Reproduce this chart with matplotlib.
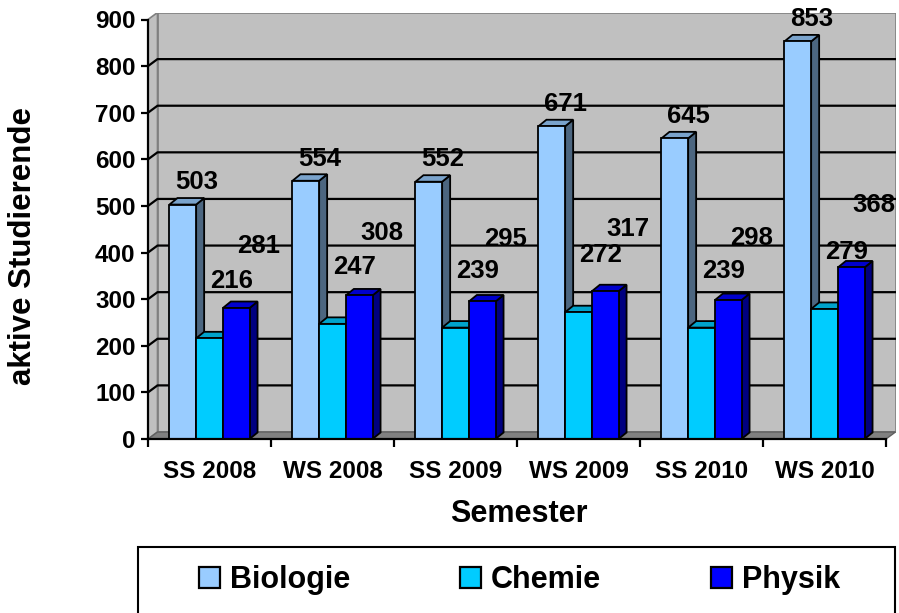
import matplotlib
matplotlib.use("Agg")
import matplotlib.pyplot as plt
from matplotlib.patches import Polygon, Rectangle, Patch
import numpy as np

plt.rcParams['font.family'] = ['Liberation Sans', 'DejaVu Sans']
plt.rcParams['font.weight'] = 'bold'

semesters = ['SS 2008', 'WS 2008', 'SS 2009', 'WS 2009', 'SS 2010', 'WS 2010']
biologie = [503, 554, 552, 671, 645, 853]
chemie = [216, 247, 239, 272, 239, 279]
physik = [281, 308, 295, 317, 298, 368]
series_names = ['Biologie', 'Chemie', 'Physik']
y_ticks = list(range(0, 1000, 100))

# front / top / side colours like the old excel 3d look
faces = [('#99CCFF', '#7AA3CC', '#4C6680'),
         ('#00CCFF', '#00A3CC', '#006680'),
         ('#0000FF', '#0000CC', '#000080')]
# label offsets in points (dx, dy) from the bar top
lab_off = [(10, 16), (16, 41), (16.5, 45)]

n = len(semesters)
px_x = 123.0            # pixels per category
px_y = 419.5 / 900      # pixels per unit
wdx, wdy = 9.5 / px_x, 7 / px_y     # wall depth
bdx, bdy = 8 / px_x, 6.5 / px_y     # bar depth
bw = 26.7 / px_x

fig = plt.figure(figsize=(8.99, 6.13), dpi=100)
ax = fig.add_axes([148 / 899, 1 - 439 / 613, (n + wdx) * px_x / 899, (900 + wdy) * px_y / 613])
ax.set_xlim(0, n + wdx)
ax.set_ylim(0, 900 + wdy)

# walls and floor
ax.add_patch(Polygon([(wdx, wdy), (n + wdx, wdy), (n + wdx, 900 + wdy), (wdx, 900 + wdy)],
                     closed=True, fc='#C0C0C0', ec='#808080', lw=1.2, zorder=0))
ax.add_patch(Polygon([(0, 0), (0, 900), (wdx, 900 + wdy), (wdx, wdy)],
                     closed=True, fc='#C0C0C0', ec='#808080', lw=1.2, zorder=0))
ax.add_patch(Polygon([(0, 0), (n, 0), (n + wdx, wdy), (wdx, wdy)],
                     closed=True, fc='#808080', ec='#606060', lw=1, zorder=1))
for v in y_ticks[1:-1]:
    ax.plot([0, wdx, n + wdx], [v, v + wdy, v + wdy], color='black', lw=1.6, zorder=0.5)

# bars
data = [biologie, chemie, physik]
for i in range(n):
    for s in range(3):
        v = data[s][i]
        x0 = i + 0.5 - 1.5 * bw + s * bw
        front, top, side = faces[s]
        z = 2 + i * 3 + s
        ax.add_patch(Polygon([(x0 + bw, 0), (x0 + bw + bdx, bdy), (x0 + bw + bdx, v + bdy), (x0 + bw, v)],
                             closed=True, fc=side, ec='black', lw=1.3, zorder=z))
        ax.add_patch(Polygon([(x0, v), (x0 + bw, v), (x0 + bw + bdx, v + bdy), (x0 + bdx, v + bdy)],
                             closed=True, fc=top, ec='black', lw=1.3, zorder=z))
        ax.add_patch(Rectangle((x0, 0), bw, v, fc=front, ec='black', lw=1.3, zorder=z))
        ax.annotate(str(v), (x0 + bw / 2, v), xytext=lab_off[s], textcoords='offset points',
                    ha='center', va='center', fontsize=18.5, fontweight='bold', zorder=50)

# axes
for sp in ['top', 'right']:
    ax.spines[sp].set_visible(False)
ax.spines['left'].set_bounds(0, 900)
ax.spines['bottom'].set_bounds(0, n)
for sp in ['left', 'bottom']:
    ax.spines[sp].set_linewidth(1.6)
    ax.spines[sp].set_zorder(60)
ax.set_yticks(y_ticks)
ax.set_yticklabels([str(t) for t in y_ticks], fontsize=17.5, fontweight='bold')
ax.tick_params(axis='y', length=5, width=1.6, pad=4)
ax.set_xticks(range(n + 1))
ax.set_xticklabels([])
ax.tick_params(axis='x', which='major', length=5.5, width=1.6)
ax.set_xticks(np.arange(n) + 0.5, minor=True)
ax.set_xticklabels(semesters, minor=True, fontsize=17.5, fontweight='bold')
ax.tick_params(axis='x', which='minor', length=0, pad=15)

fig.text(519 / 899, 1 - 514 / 613, 'Semester', ha='center', va='center', fontsize=22, fontweight='bold')
fig.text(23 / 899, 1 - 246 / 613, 'aktive Studierende', ha='center', va='center', rotation=90,
         fontsize=22.5, fontweight='bold')

# legend box (runs off the bottom edge)
fig.patches.append(Rectangle((138 / 899, -0.05), (895 - 138) / 899, 0.05 + (613 - 547) / 613,
                             transform=fig.transFigure, fc='white', ec='black', lw=1.5))
handles = [Patch(fc=faces[s][0], ec='black', lw=1.6) for s in range(3)]
fig.legend(handles, series_names, loc='center', bbox_to_anchor=(519.5 / 899, 1 - 580 / 613),
           ncol=3, frameon=False, prop={'size': 22, 'weight': 'bold'},
           handlelength=0.69, handleheight=0.69, handletextpad=0.33, columnspacing=3.6)

fig.savefig('out.png', dpi=100)
